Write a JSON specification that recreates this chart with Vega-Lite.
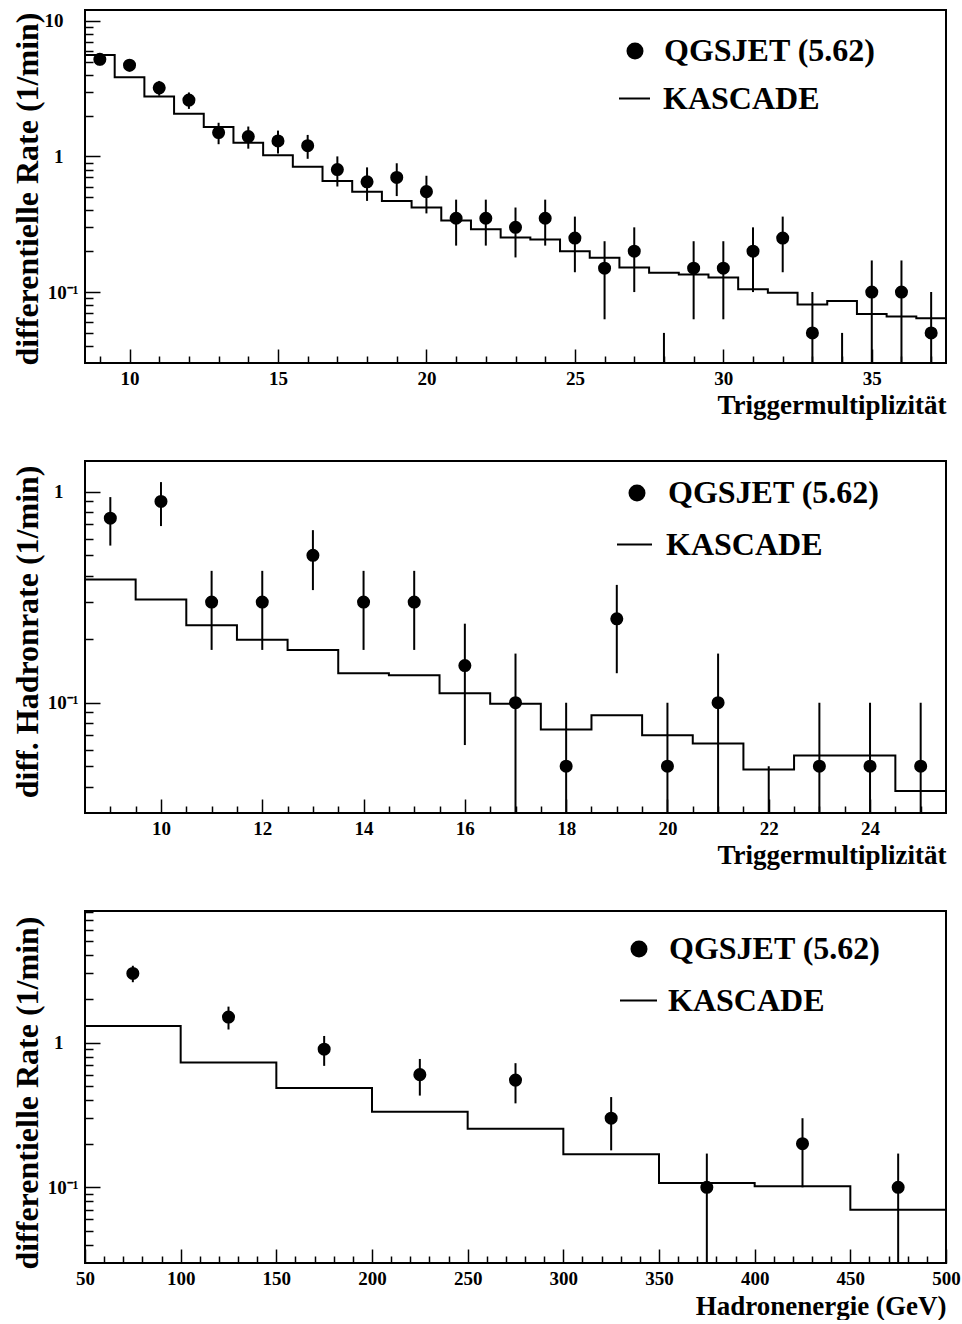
{
  "$schema": "https://vega.github.io/schema/vega-lite/v6.json",
  "background": "white",
  "autosize": {"type": "pad"},
  "padding": {"left": 10, "top": 9, "right": 5, "bottom": 0},
  "spacing": 98,
  "bounds": "flush",
  "config": {
    "font": "Liberation Serif",
    "view": {"stroke": "black", "strokeWidth": 2, "fill": null},
    "axis": {
      "domain": false, "grid": false, "ticks": true, "tickColor": "black", "tickWidth": 1.5, "zindex": 1,
      "labelFont": "Liberation Serif", "labelFontWeight": "bold", "labelFontSize": 19, "labelColor": "black",
      "titleFont": "Liberation Serif", "titleFontWeight": "bold", "titleColor": "black",
      "labelFlush": false, "labelOverlap": false, "labelBound": false
    },
    "legend": {
      "title": null, "padding": 0, "labelFont": "Liberation Serif", "labelFontWeight": "bold",
      "labelFontSize": 32, "labelColor": "black", "labelLimit": 600
    }
  },
  "resolve": {
    "scale": {"x": "independent", "y": "independent", "color": "independent", "shape": "independent"},
    "axis": {"x": "independent", "y": "independent"},
    "legend": {"color": "independent", "shape": "independent"}
  },
  "datasets": {
    "p1hist": [
      {"x": 8.5, "rate": 5.6}, {"x": 9.5, "rate": 3.83}, {"x": 10.5, "rate": 2.77}, {"x": 11.5, "rate": 2.06},
      {"x": 12.5, "rate": 1.65}, {"x": 13.5, "rate": 1.26}, {"x": 14.5, "rate": 1.02}, {"x": 15.5, "rate": 0.84},
      {"x": 16.5, "rate": 0.66}, {"x": 17.5, "rate": 0.55}, {"x": 18.5, "rate": 0.47}, {"x": 19.5, "rate": 0.42},
      {"x": 20.5, "rate": 0.337}, {"x": 21.5, "rate": 0.29}, {"x": 22.5, "rate": 0.252}, {"x": 23.5, "rate": 0.244},
      {"x": 24.5, "rate": 0.2}, {"x": 25.5, "rate": 0.179}, {"x": 26.5, "rate": 0.152}, {"x": 27.5, "rate": 0.139},
      {"x": 28.5, "rate": 0.135}, {"x": 29.5, "rate": 0.128}, {"x": 30.5, "rate": 0.105}, {"x": 31.5, "rate": 0.099},
      {"x": 32.5, "rate": 0.081}, {"x": 33.5, "rate": 0.086}, {"x": 34.5, "rate": 0.069}, {"x": 35.5, "rate": 0.066},
      {"x": 36.5, "rate": 0.064}, {"x": 37.5, "rate": 0.064}
    ],
    "p1pts": [
      {"x": 9, "rate": 5.2, "lo": 4.69, "hi": 5.71}, {"x": 10, "rate": 4.7, "lo": 4.22, "hi": 5.18},
      {"x": 11, "rate": 3.2, "lo": 2.8, "hi": 3.6}, {"x": 12, "rate": 2.6, "lo": 2.24, "hi": 2.96},
      {"x": 13, "rate": 1.5, "lo": 1.23, "hi": 1.77}, {"x": 14, "rate": 1.4, "lo": 1.14, "hi": 1.66},
      {"x": 15, "rate": 1.3, "lo": 1.05, "hi": 1.55}, {"x": 16, "rate": 1.2, "lo": 0.96, "hi": 1.44},
      {"x": 17, "rate": 0.8, "lo": 0.6, "hi": 1.0}, {"x": 18, "rate": 0.65, "lo": 0.47, "hi": 0.83},
      {"x": 19, "rate": 0.7, "lo": 0.51, "hi": 0.89}, {"x": 20, "rate": 0.55, "lo": 0.38, "hi": 0.72},
      {"x": 21, "rate": 0.35, "lo": 0.22, "hi": 0.48}, {"x": 22, "rate": 0.35, "lo": 0.22, "hi": 0.48},
      {"x": 23, "rate": 0.3, "lo": 0.18, "hi": 0.42}, {"x": 24, "rate": 0.35, "lo": 0.22, "hi": 0.48},
      {"x": 25, "rate": 0.25, "lo": 0.14, "hi": 0.36}, {"x": 26, "rate": 0.15, "lo": 0.063, "hi": 0.237},
      {"x": 27, "rate": 0.2, "lo": 0.1, "hi": 0.3}, {"x": 28, "rate": null, "lo": 0.001, "hi": 0.05},
      {"x": 29, "rate": 0.15, "lo": 0.063, "hi": 0.237}, {"x": 30, "rate": 0.15, "lo": 0.063, "hi": 0.237},
      {"x": 31, "rate": 0.2, "lo": 0.1, "hi": 0.3}, {"x": 32, "rate": 0.25, "lo": 0.14, "hi": 0.36},
      {"x": 33, "rate": 0.05, "lo": 0.001, "hi": 0.1}, {"x": 34, "rate": null, "lo": 0.001, "hi": 0.05},
      {"x": 35, "rate": 0.1, "lo": 0.029, "hi": 0.171}, {"x": 36, "rate": 0.1, "lo": 0.029, "hi": 0.171},
      {"x": 37, "rate": 0.05, "lo": 0.001, "hi": 0.1}
    ],
    "p2hist": [
      {"x": 8.5, "rate": 0.384}, {"x": 9.5, "rate": 0.309}, {"x": 10.5, "rate": 0.233}, {"x": 11.5, "rate": 0.199},
      {"x": 12.5, "rate": 0.178}, {"x": 13.5, "rate": 0.138}, {"x": 14.5, "rate": 0.135}, {"x": 15.5, "rate": 0.111},
      {"x": 16.5, "rate": 0.099}, {"x": 17.5, "rate": 0.0747}, {"x": 18.5, "rate": 0.0873}, {"x": 19.5, "rate": 0.0702},
      {"x": 20.5, "rate": 0.0641}, {"x": 21.5, "rate": 0.0483}, {"x": 22.5, "rate": 0.0562}, {"x": 23.5, "rate": 0.0562},
      {"x": 24.5, "rate": 0.0381}, {"x": 25.5, "rate": 0.0381}
    ],
    "p2pts": [
      {"x": 9, "rate": 0.75, "lo": 0.556, "hi": 0.944}, {"x": 10, "rate": 0.9, "lo": 0.688, "hi": 1.112},
      {"x": 11, "rate": 0.3, "lo": 0.178, "hi": 0.422}, {"x": 12, "rate": 0.3, "lo": 0.178, "hi": 0.422},
      {"x": 13, "rate": 0.5, "lo": 0.342, "hi": 0.658}, {"x": 14, "rate": 0.3, "lo": 0.178, "hi": 0.422},
      {"x": 15, "rate": 0.3, "lo": 0.178, "hi": 0.422}, {"x": 16, "rate": 0.15, "lo": 0.063, "hi": 0.237},
      {"x": 17, "rate": 0.1, "lo": 0.029, "hi": 0.171}, {"x": 18, "rate": 0.05, "lo": 0.001, "hi": 0.1},
      {"x": 19, "rate": 0.25, "lo": 0.138, "hi": 0.362}, {"x": 20, "rate": 0.05, "lo": 0.001, "hi": 0.1},
      {"x": 21, "rate": 0.1, "lo": 0.029, "hi": 0.171}, {"x": 22, "rate": null, "lo": 0.001, "hi": 0.05},
      {"x": 23, "rate": 0.05, "lo": 0.001, "hi": 0.1}, {"x": 24, "rate": 0.05, "lo": 0.001, "hi": 0.1},
      {"x": 25, "rate": 0.05, "lo": 0.001, "hi": 0.1}
    ],
    "p3hist": [
      {"x": 50, "rate": 1.3}, {"x": 100, "rate": 0.728}, {"x": 150, "rate": 0.485}, {"x": 200, "rate": 0.333},
      {"x": 250, "rate": 0.254}, {"x": 300, "rate": 0.169}, {"x": 350, "rate": 0.107}, {"x": 400, "rate": 0.1016},
      {"x": 450, "rate": 0.07}, {"x": 500, "rate": 0.07}
    ],
    "p3pts": [
      {"x": 75, "rate": 3.0, "lo": 2.61, "hi": 3.39}, {"x": 125, "rate": 1.5, "lo": 1.23, "hi": 1.77},
      {"x": 175, "rate": 0.9, "lo": 0.69, "hi": 1.11}, {"x": 225, "rate": 0.6, "lo": 0.43, "hi": 0.77},
      {"x": 275, "rate": 0.55, "lo": 0.38, "hi": 0.72}, {"x": 325, "rate": 0.3, "lo": 0.18, "hi": 0.42},
      {"x": 375, "rate": 0.1, "lo": 0.029, "hi": 0.171}, {"x": 425, "rate": 0.2, "lo": 0.1, "hi": 0.3},
      {"x": 475, "rate": 0.1, "lo": 0.029, "hi": 0.171}
    ]
  },
  "vconcat": [
    {
      "width": 861, "height": 353,
      "resolve": {"axis": {"x": "independent", "y": "independent"}},
      "layer": [
        {
          "data": {"name": "p1hist"},
          "mark": {"type": "line", "interpolate": "step-after", "strokeWidth": 2, "clip": true},
          "encoding": {
            "x": {"field": "x", "type": "quantitative",
              "scale": {"domain": [8.5, 37.5], "nice": false, "zero": false},
              "axis": {"orient": "bottom", "title": "Triggermultiplizität", "titleFontSize": 27, "titleAnchor": "end", "titleAlign": "right",
                "titleBaseline": "alphabetic", "titleX": 861, "titleY": 50, "tickCount": 1000,
                "values": [10,15,20,25,30,35], "tickSize": -14, "labelExpr": "'' + datum.value",
                "labelBaseline": "alphabetic", "labelPadding": 35}},
            "y": {"field": "rate", "type": "quantitative",
              "scale": {"type": "log", "domain": [0.03, 12], "nice": false, "zero": false},
              "axis": {"orient": "left", "title": "differentielle Rate (1/min)", "titleFontSize": 32, "titleAngle": 270, "titleAlign": "right",
                "titleBaseline": "alphabetic", "titleX": -48, "titleY": 2, "tickCount": 1000,
                "values": [0.1, 1, 10], "tickSize": -15,
                "labelExpr": "datum.value == 10 ? '10' : datum.value == 1 ? '1' : '10⁻¹'",
                "labelBaseline": "middle",
                "labelPadding": {"condition": {"test": "datum.value == 0.1", "value": 22}, "value": 37}}},
            "color": {"datum": "KASCADE", "scale": {"range": ["black"]},
              "legend": {"orient": "none", "legendX": 533, "legendY": 72, "symbolType": "stroke", "symbolSize": 961,
                "symbolStrokeWidth": 2, "symbolStrokeColor": "black", "labelOffset": 12}}
          }
        },
        {
          "data": {"name": "p1pts"},
          "mark": {"type": "rule", "color": "black", "strokeWidth": 2, "clip": true},
          "encoding": {
            "x": {"field": "x", "type": "quantitative",
              "axis": {"orient": "bottom", "title": null, "labels": false, "tickCount": 1000, "tickSize": -7,
                "values": [9,11,12,13,14,16,17,18,19,21,22,23,24,26,27,28,29,31,32,33,34,36,37]}},
            "y": {"field": "lo", "type": "quantitative",
              "axis": {"orient": "left", "title": null, "labels": false, "tickCount": 1000, "tickSize": -8,
                "values": [0.04,0.05,0.06,0.07,0.08,0.09,0.2,0.3,0.4,0.5,0.6,0.7,0.8,0.9,2,3,4,5,6,7,8,9]}},
            "y2": {"field": "hi"}
          }
        },
        {
          "data": {"name": "p1pts"},
          "mark": {"type": "point", "filled": true, "color": "black", "opacity": 1, "size": 170, "clip": true},
          "encoding": {
            "x": {"field": "x", "type": "quantitative", "axis": null},
            "y": {"field": "rate", "type": "quantitative", "axis": null},
            "shape": {"datum": "QGSJET (5.62)", "scale": {"range": ["circle"]},
              "legend": {"orient": "none", "legendX": 534, "legendY": 25, "symbolType": "circle", "symbolSize": 289,
                "symbolFillColor": "black", "symbolStrokeColor": "black", "symbolStrokeWidth": 0, "labelOffset": 13}}
          }
        }
      ]
    },
    {
      "width": 861, "height": 352,
      "resolve": {"axis": {"x": "independent", "y": "independent"}},
      "layer": [
        {
          "data": {"name": "p2hist"},
          "mark": {"type": "line", "interpolate": "step-after", "strokeWidth": 2, "clip": true},
          "encoding": {
            "x": {"field": "x", "type": "quantitative",
              "scale": {"domain": [8.5, 25.5], "nice": false, "zero": false},
              "axis": {"orient": "bottom", "title": "Triggermultiplizität", "titleFontSize": 27, "titleAnchor": "end", "titleAlign": "right",
                "titleBaseline": "alphabetic", "titleX": 861, "titleY": 50, "tickCount": 1000,
                "values": [10,12,14,16,18,20,22,24], "tickSize": -14, "labelExpr": "'' + datum.value",
                "labelBaseline": "alphabetic", "labelPadding": 35}},
            "y": {"field": "rate", "type": "quantitative",
              "scale": {"type": "log", "domain": [0.03, 1.4], "nice": false, "zero": false},
              "axis": {"orient": "left", "title": "diff. Hadronrate (1/min)", "titleFontSize": 32, "titleAngle": 270, "titleAlign": "right",
                "titleBaseline": "alphabetic", "titleX": -48, "titleY": 4, "tickCount": 1000,
                "values": [0.1, 1], "tickSize": -15,
                "labelExpr": "datum.value == 1 ? '1' : '10⁻¹'",
                "labelBaseline": "middle",
                "labelPadding": {"condition": {"test": "datum.value == 0.1", "value": 22}, "value": 37}}},
            "color": {"datum": "KASCADE", "scale": {"range": ["black"]},
              "legend": {"orient": "none", "legendX": 531, "legendY": 65, "symbolType": "stroke", "symbolSize": 1225,
                "symbolStrokeWidth": 2, "symbolStrokeColor": "black", "labelOffset": 13}}
          }
        },
        {
          "data": {"name": "p2pts"},
          "mark": {"type": "rule", "color": "black", "strokeWidth": 2, "clip": true},
          "encoding": {
            "x": {"field": "x", "type": "quantitative",
              "axis": {"orient": "bottom", "title": null, "labels": false, "tickCount": 1000, "tickSize": -7,
                "values": [9,9.5,10.5,11,11.5,12.5,13,13.5,14.5,15,15.5,16.5,17,17.5,18.5,19,19.5,20.5,21,21.5,22.5,23,23.5,24.5,25]}},
            "y": {"field": "lo", "type": "quantitative",
              "axis": {"orient": "left", "title": null, "labels": false, "tickCount": 1000, "tickSize": -8,
                "values": [0.04,0.05,0.06,0.07,0.08,0.09,0.2,0.3,0.4,0.5,0.6,0.7,0.8,0.9]}},
            "y2": {"field": "hi"}
          }
        },
        {
          "data": {"name": "p2pts"},
          "mark": {"type": "point", "filled": true, "color": "black", "opacity": 1, "size": 170, "clip": true},
          "encoding": {
            "x": {"field": "x", "type": "quantitative", "axis": null},
            "y": {"field": "rate", "type": "quantitative", "axis": null},
            "shape": {"datum": "QGSJET (5.62)", "scale": {"range": ["circle"]},
              "legend": {"orient": "none", "legendX": 536, "legendY": 16, "symbolType": "circle", "symbolSize": 289,
                "symbolFillColor": "black", "symbolStrokeColor": "black", "symbolStrokeWidth": 0, "labelOffset": 15}}
          }
        }
      ]
    },
    {
      "width": 861, "height": 352,
      "resolve": {"axis": {"x": "independent", "y": "independent"}},
      "layer": [
        {
          "data": {"name": "p3hist"},
          "mark": {"type": "line", "interpolate": "step-after", "strokeWidth": 2, "clip": true},
          "encoding": {
            "x": {"field": "x", "type": "quantitative",
              "scale": {"domain": [50, 500], "nice": false, "zero": false},
              "axis": {"orient": "bottom", "title": "Hadronenergie (GeV)", "titleFontSize": 27, "titleAnchor": "end", "titleAlign": "right",
                "titleBaseline": "alphabetic", "titleX": 861, "titleY": 51, "tickCount": 1000,
                "values": [50,100,150,200,250,300,350,400,450,500], "tickSize": -14, "labelExpr": "'' + datum.value",
                "labelBaseline": "alphabetic", "labelPadding": 35}},
            "y": {"field": "rate", "type": "quantitative",
              "scale": {"type": "log", "domain": [0.03, 8.1], "nice": false, "zero": false},
              "axis": {"orient": "left", "title": "differentielle Rate (1/min)", "titleFontSize": 32, "titleAngle": 270, "titleAlign": "right",
                "titleBaseline": "alphabetic", "titleX": -48, "titleY": 5, "tickCount": 1000,
                "values": [0.1, 1], "tickSize": -15,
                "labelExpr": "datum.value == 1 ? '1' : '10⁻¹'",
                "labelBaseline": "middle",
                "labelPadding": {"condition": {"test": "datum.value == 0.1", "value": 22}, "value": 37}}},
            "color": {"datum": "KASCADE", "scale": {"range": ["black"]},
              "legend": {"orient": "none", "legendX": 534, "legendY": 70, "symbolType": "stroke", "symbolSize": 1369,
                "symbolStrokeWidth": 2, "symbolStrokeColor": "black", "labelOffset": 10}}
          }
        },
        {
          "data": {"name": "p3pts"},
          "mark": {"type": "rule", "color": "black", "strokeWidth": 2, "clip": true},
          "encoding": {
            "x": {"field": "x", "type": "quantitative",
              "axis": {"orient": "bottom", "title": null, "labels": false, "tickCount": 1000, "tickSize": -7,
                "values": [60,70,80,90,110,120,130,140,160,170,180,190,210,220,230,240,260,270,280,290,310,320,330,340,360,370,380,390,410,420,430,440,460,470,480,490]}},
            "y": {"field": "lo", "type": "quantitative",
              "axis": {"orient": "left", "title": null, "labels": false, "tickCount": 1000, "tickSize": -8,
                "values": [0.04,0.05,0.06,0.07,0.08,0.09,0.2,0.3,0.4,0.5,0.6,0.7,0.8,0.9,2,3,4,5,6,7,8]}},
            "y2": {"field": "hi"}
          }
        },
        {
          "data": {"name": "p3pts"},
          "mark": {"type": "point", "filled": true, "color": "black", "opacity": 1, "size": 170, "clip": true},
          "encoding": {
            "x": {"field": "x", "type": "quantitative", "axis": null},
            "y": {"field": "rate", "type": "quantitative", "axis": null},
            "shape": {"datum": "QGSJET (5.62)", "scale": {"range": ["circle"]},
              "legend": {"orient": "none", "legendX": 538, "legendY": 22, "symbolType": "circle", "symbolSize": 289,
                "symbolFillColor": "black", "symbolStrokeColor": "black", "symbolStrokeWidth": 0, "labelOffset": 14}}
          }
        }
      ]
    }
  ]
}
